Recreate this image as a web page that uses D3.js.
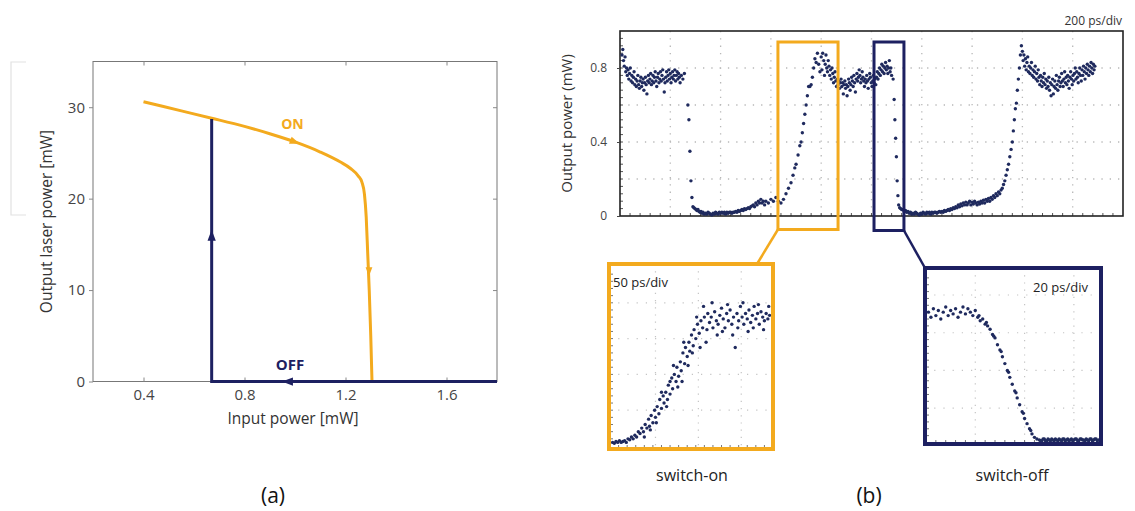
<!DOCTYPE html>
<html><head><meta charset="utf-8">
<script src="https://cdn.jsdelivr.net/npm/d3@7"></script>
<style>body{margin:0;background:#fff}svg{display:block}text{font-family:"Open Sans",sans-serif}</style>
</head><body>
<script>
// ---------- DATA ----------
// (a) hysteresis
const onBranchX = [0.40,0.55,0.67,0.80,0.90,1.00,1.10,1.18,1.22,1.25,1.265,1.275,1.282,1.288,1.294,1.300,1.305];
const onBranchY = [30.6,29.6,28.8,27.9,27.1,26.2,25.1,24.0,23.3,22.5,21.8,20.5,18.0,14.0,10.0,5.0,0];
const offBranchX = [1.80,0.67,0.67];
const offBranchY = [0,0,28.7];
const aXTicks = [0.4,0.8,1.2,1.6];
const aYTicks = [0,10,20,30];

// (b) main trace: [time ps, output mW]
const traceMain = [
[8,0.87],[11,0.90],[14,0.84],[17,0.81],[20,0.86],[23,0.78],[26,0.80],[29,0.76],[32,0.79],[35,0.74],[38,0.77],[41,0.80],[44,0.73],[47,0.76],[50,0.72],[53,0.75],[56,0.78],[59,0.71],[62,0.74],[65,0.70],[68,0.73],[71,0.76],[74,0.71],[77,0.69],[80,0.73],[83,0.75],[86,0.70],[89,0.72],[92,0.74],[95,0.68],[98,0.72],[101,0.75],[104,0.71],[107,0.66],[110,0.73],[113,0.76],[116,0.72],[119,0.74],[122,0.77],[125,0.71],[128,0.73],[131,0.76],[134,0.72],[137,0.75],[140,0.78],[143,0.73],[146,0.70],[149,0.75],[152,0.77],[155,0.72],[158,0.74],[161,0.78],[164,0.73],[167,0.76],[170,0.79],[173,0.74],[176,0.67],[179,0.72],[182,0.75],[185,0.78],[188,0.73],[191,0.76],[194,0.79],[197,0.74],[200,0.77],[203,0.72],[206,0.75],[209,0.78],[212,0.74],[215,0.76],[218,0.79],[221,0.73],[224,0.76],[227,0.78],[230,0.74],[233,0.77],[236,0.75],[239,0.72],[244,0.76],[250,0.74],[256,0.77],
[270,0.60],[274,0.52],[278,0.35],[282,0.19],[286,0.10],[290,0.05],
[294,0.045],[298,0.04],[302,0.035],[306,0.03],[310,0.035],[314,0.025],[318,0.02],[322,0.025],[326,0.015],[330,0.02],[335,0.01],[340,0.015],[345,0.01],[350,0.02],[355,0.015],[360,0.01],[365,0.005],[370,0.015],[375,0.01],[380,0.02],[385,0.015],[390,0.01],[395,0.02],[400,0.015],[405,0.02],[410,0.015],[415,0.02],[420,0.01],[425,0.02],[430,0.015],[435,0.02],[440,0.02],[445,0.015],[450,0.02],[455,0.02],[460,0.025],[465,0.02],[470,0.03],[475,0.025],[480,0.03],[485,0.035],[490,0.03],[495,0.04],[500,0.035],[505,0.04],[510,0.045],[515,0.04],[520,0.05],[525,0.055],[530,0.06],[535,0.05],[540,0.07],[545,0.06],[550,0.08],[555,0.07],[560,0.09],[565,0.07],[570,0.08],[575,0.06],[580,0.08],[590,0.07],[600,0.09],[610,0.08],[620,0.10],[630,0.08],[640,0.07],[650,0.09],
[660,0.12],[670,0.15],[680,0.18],[688,0.22],[695,0.26],[700,0.28],[708,0.33],[715,0.38],[720,0.40],[725,0.45],[730,0.50],[735,0.55],[740,0.60],[745,0.65],[750,0.70],[755,0.70],[760,0.71],[765,0.75],[770,0.80],[775,0.85],[780,0.83],[785,0.88],[790,0.82],[795,0.78],
[800,0.86],[803,0.79],[806,0.88],[810,0.84],[813,0.76],[816,0.82],[819,0.87],[822,0.80],[825,0.78],[828,0.84],[831,0.81],[834,0.76],[837,0.79],[840,0.74],[843,0.80],[846,0.77],[849,0.72],[852,0.75],[855,0.78],[858,0.73],[861,0.70],[864,0.74],[867,0.71],[870,0.73],[873,0.69],[876,0.72],[879,0.74],[882,0.70],[885,0.72],[888,0.66],[891,0.71],[894,0.73],[897,0.69],[900,0.71],[903,0.65],[906,0.70],[909,0.74],[912,0.72],[915,0.68],[918,0.71],[921,0.75],[924,0.73],[927,0.70],[930,0.76],[933,0.72],[936,0.67],[939,0.74],[942,0.77],[945,0.73],[948,0.75],[951,0.79],[954,0.76],[957,0.72],[960,0.74],[963,0.78],[966,0.75],[969,0.73],[972,0.70],[975,0.74],[978,0.72],[981,0.76],[984,0.73],[987,0.69],[990,0.74],[993,0.77],[996,0.75],[999,0.72],[1002,0.70],[1005,0.73],[1008,0.76],[1011,0.72],[1014,0.74],[1017,0.71],[1020,0.75],[1023,0.78],[1026,0.74],[1029,0.77],[1032,0.80],[1035,0.76],[1038,0.79],[1041,0.82],[1044,0.78],[1047,0.81],[1050,0.77],[1053,0.80],[1056,0.83],[1059,0.79],[1062,0.81],[1065,0.77],[1068,0.80],[1071,0.84],[1074,0.78],[1077,0.80],[1080,0.76],
[1086,0.74],[1090,0.63],[1093,0.52],[1096,0.42],[1099,0.32],[1102,0.19],[1105,0.11],[1108,0.06],
[1112,0.045],[1116,0.04],[1120,0.035],[1125,0.035],[1130,0.025],[1135,0.03],[1140,0.02],[1145,0.025],[1150,0.015],[1155,0.02],[1160,0.01],[1165,0.015],[1170,0.01],[1175,0.02],[1180,0.015],[1185,0.01],[1190,0.005],[1195,0.015],[1200,0.01],[1205,0.02],[1210,0.015],[1215,0.01],[1220,0.02],[1225,0.015],[1230,0.02],[1235,0.01],[1240,0.02],[1245,0.015],[1250,0.02],[1255,0.02],[1260,0.015],[1265,0.02],[1270,0.025],[1275,0.02],[1280,0.025],[1285,0.02],[1290,0.03],[1295,0.025],[1300,0.03],[1305,0.035],[1310,0.03],[1315,0.04],[1320,0.035],[1325,0.045],[1330,0.04],[1335,0.05],[1340,0.045],[1345,0.06],[1350,0.05],[1355,0.065],[1360,0.055],[1365,0.07],[1370,0.06],[1375,0.075],[1380,0.06],[1385,0.07],[1390,0.08],[1395,0.06],[1400,0.075],[1405,0.065],[1410,0.08],[1415,0.07],[1420,0.06],[1425,0.075],[1430,0.065],[1435,0.08],[1440,0.07],[1445,0.085],[1450,0.07],[1455,0.09],[1460,0.08],[1465,0.095],[1470,0.08],[1475,0.10],[1480,0.09],[1485,0.11],[1490,0.10],[1495,0.12],[1500,0.11],[1505,0.13],[1510,0.12],[1515,0.14],[1520,0.15],
[1525,0.17],[1530,0.19],[1535,0.22],[1540,0.25],[1545,0.28],[1550,0.32],[1555,0.36],[1560,0.40],[1564,0.46],[1568,0.52],[1572,0.58],[1576,0.61],[1580,0.68],[1584,0.74],[1588,0.80],[1592,0.87],[1596,0.92],
[1600,0.89],[1603,0.84],[1606,0.87],[1609,0.81],[1612,0.85],[1615,0.79],[1618,0.83],[1621,0.86],[1624,0.78],[1627,0.81],[1630,0.77],[1633,0.80],[1636,0.83],[1639,0.76],[1642,0.79],[1645,0.75],[1648,0.78],[1651,0.81],[1654,0.74],[1657,0.77],[1660,0.73],[1663,0.79],[1666,0.75],[1669,0.71],[1672,0.76],[1675,0.73],[1678,0.70],[1681,0.75],[1684,0.72],[1687,0.77],[1690,0.71],[1693,0.74],[1696,0.69],[1699,0.73],[1702,0.70],[1705,0.75],[1708,0.68],[1711,0.72],[1714,0.65],[1717,0.71],[1720,0.74],[1723,0.66],[1726,0.70],[1729,0.73],[1732,0.69],[1735,0.76],[1738,0.71],[1741,0.68],[1744,0.73],[1747,0.75],[1750,0.70],[1753,0.72],[1756,0.77],[1759,0.73],[1762,0.70],[1765,0.74],[1768,0.78],[1771,0.72],[1774,0.75],[1777,0.71],[1780,0.76],[1783,0.73],[1786,0.69],[1789,0.75],[1792,0.78],[1795,0.74],[1798,0.71],[1801,0.76],[1804,0.73],[1807,0.77],[1810,0.80],[1813,0.74],[1816,0.78],[1819,0.75],[1822,0.72],[1825,0.77],[1828,0.80],[1831,0.76],[1834,0.73],[1837,0.79],[1840,0.76],[1843,0.81],[1846,0.78],[1849,0.74],[1852,0.80],[1855,0.77],[1858,0.82],[1861,0.79],[1864,0.76],[1867,0.81],[1870,0.78],[1873,0.83],[1876,0.80],[1879,0.77],[1882,0.82],[1885,0.79],[1888,0.81]
];
const bYTicks = [0,0.4,0.8];
const zoomOnWindow = [628, 867];   // ps
const zoomOffWindow = [1010, 1129]; // ps

// switch-on inset (50 ps/div)
const traceSwitchOn = [
[3,0.02],[5,0.015],[7,0.025],[9,0.02],[11,0.03],[13,0.02],[15,0.025],[17,0.03],[19,0.02],[21,0.04],[23,0.035],[25,0.05],[27,0.04],[29,0.06],
[31,0.05],[33,0.08],[35,0.07],[37,0.10],[39,0.08],[40,0.05],[41,0.12],[43,0.10],[45,0.15],[46,0.11],[47,0.09],[48,0.17],[50,0.13],[52,0.20],[53,0.16],[54,0.13],[55,0.22],[57,0.18],[58,0.26],[60,0.21],[60,0.30],[62,0.28],[63,0.24],[65,0.30],[66,0.22],[67,0.26],[68,0.34],[70,0.29],[70,0.36],[72,0.38],[73,0.32],[74,0.45],[75,0.40],[77,0.36],[78,0.44],[79,0.33],[80,0.39],[82,0.47],[83,0.42],[84,0.36],[85,0.52],[86,0.58],[87,0.46],[88,0.55],[90,0.50],[91,0.45],[92,0.58],[93,0.53],[95,0.62],[96,0.52],[97,0.56],[98,0.65],[100,0.60],[101,0.72],[102,0.68],[104,0.63],[105,0.55],[106,0.70],[108,0.66],[109,0.78],[110,0.72],[112,0.58],[113,0.65],[114,0.74],[116,0.69],
[118,0.72],[119,0.80],[120,0.66],[122,0.75],[124,0.70],[125,0.62],[126,0.68],[128,0.73],[130,0.77],[131,0.64],[132,0.71],[134,0.66],[136,0.74],[137,0.79],[138,0.70],[140,0.76],[142,0.68],[143,0.62],[144,0.72],[146,0.55],[148,0.74],[149,0.66],[150,0.70],[152,0.78],[154,0.72],[155,0.80],[156,0.68],[158,0.74],[160,0.71],[161,0.64],[162,0.76],[164,0.69],[166,0.73],[167,0.66],[168,0.78],[170,0.71],[172,0.74],[173,0.79],[174,0.68],[176,0.75],[178,0.72],[179,0.65],[180,0.70],[182,0.74],[184,0.71],[185,0.78],[186,0.73]
];
// switch-off inset (20 ps/div)
const traceSwitchOff = [
[1,0.76],[2,0.73],[3,0.78],[4,0.74],[5,0.77],[6,0.72],[7,0.76],[8,0.79],[9,0.74],[10,0.77],[11,0.75],[12,0.78],[13,0.73],[14,0.76],[15,0.79],[16,0.75],[17,0.78],[18,0.76],[19,0.74],[20,0.77],[21,0.73],[21.5,0.74],[22,0.71],[23,0.72],[24,0.69],[24.5,0.70],[25,0.68],[26,0.66],[27,0.63],[27.5,0.62],[28,0.61],[29,0.57],[30,0.54],[30.5,0.53],[31,0.50],[32,0.46],[33,0.42],[33.5,0.41],[34,0.38],[35,0.34],[36,0.30],[36.5,0.29],[37,0.26],[38,0.22],[39,0.18],[39.5,0.17],[40,0.14],[41,0.11],[42,0.08],[42.5,0.07],[43,0.05],[44,0.03],[45,0.02],
[46,0.015],[46.5,0.01],[47,0.01],[47.5,0.02],[48,0.02],[48.5,0.01],[49,0.01],[49.5,0.02],[50,0.015],[50.5,0.01],[51,0.02],[51.5,0.015],[52,0.01],[52.5,0.02],[53,0.015],[53.5,0.01],[54,0.02],[54.5,0.015],[55,0.01],[55.5,0.02],[56,0.02],[56.5,0.01],[57,0.015],[57.5,0.02],[58,0.01],[58.5,0.015],[59,0.02],[59.5,0.01],[60,0.015],[60.5,0.02],[61,0.02],[61.5,0.01],[62,0.01],[62.5,0.02],[63,0.02],[63.5,0.015],[64,0.015],[64.5,0.01],[65,0.02],[65.5,0.015],[66,0.01],[66.5,0.02],[67,0.02],[67.5,0.01],[68,0.015],[68.5,0.02],[69,0.02],[69.5,0.01],[70,0.015]
];

// ---------- DRAW ----------
const W = 1135, H = 511;
const ORANGE = "#F3AA1E", NAVY = "#1D2061", DOT = "#1f2a5e";
const svg = d3.select("body").append("svg").attr("width", W).attr("height", H);
svg.append("rect").attr("width", W).attr("height", H).attr("fill", "#fff");

// ===== Panel (a) =====
const ax = d3.scaleLinear().domain([0.2, 1.8]).range([93, 497]);
const ay = d3.scaleLinear().domain([0, 35]).range([381.5, 61.5]);
const ga = svg.append("g");
ga.append("path").attr("d", "M26,62 H11 V215 H26").attr("fill", "none").attr("stroke", "#e2e2e2").attr("stroke-width", 1.2);

ga.append("rect").attr("x", ax(0.2)).attr("y", ay(35)).attr("width", ax(1.8) - ax(0.2)).attr("height", ay(0) - ay(35))
  .attr("fill", "none").attr("stroke", "#777").attr("stroke-width", 1);
const axB = ga.append("g").attr("transform", `translate(0,${ay(0)})`)
  .call(d3.axisBottom(ax).tickValues(aXTicks).tickSize(-4).tickPadding(8).tickFormat(d3.format(".1f")));
const axT = ga.append("g").attr("transform", `translate(0,${ay(35)})`)
  .call(d3.axisTop(ax).tickValues(aXTicks).tickSize(-4).tickFormat(""));
const axL = ga.append("g").attr("transform", `translate(${ax(0.2)},0)`)
  .call(d3.axisLeft(ay).tickValues(aYTicks).tickSize(4).tickPadding(4));
const axR = ga.append("g").attr("transform", `translate(${ax(1.8)},0)`)
  .call(d3.axisRight(ay).tickValues(aYTicks).tickSize(-4).tickFormat(""));
[axB, axT, axL, axR].forEach(g => {
  g.select(".domain").remove();
  g.selectAll("line").attr("stroke", "#888");
  g.selectAll("text").attr("fill", "#444").attr("font-size", 15);
});
ga.append("text").attr("x", (ax(0.2) + ax(1.8)) / 2 - 2).attr("y", 424).attr("text-anchor", "middle")
  .attr("font-size", 15.5).attr("fill", "#333").text("Input power [mW]");
ga.append("text").attr("transform", `translate(52,${(ay(0) + ay(35)) / 2}) rotate(-90)`).attr("text-anchor", "middle")
  .attr("font-size", 15.5).attr("fill", "#333").text("Output laser power [mW]");

const onPts = onBranchX.map((x, i) => [x, onBranchY[i]]);
const offPts = offBranchX.map((x, i) => [x, offBranchY[i]]);
ga.append("path").attr("d", d3.line().x(d => ax(d[0])).y(d => ay(d[1])).curve(d3.curveMonotoneX)(onPts)).attr("fill", "none")
  .attr("stroke", ORANGE).attr("stroke-width", 3);
ga.append("path").attr("d", d3.line().x(d => ax(d[0])).y(d => ay(d[1]))(offPts)).attr("fill", "none")
  .attr("stroke", NAVY).attr("stroke-width", 3).attr("stroke-linejoin", "miter");
function arrow(g, x, y, angle, color, s) {
  g.append("path").attr("d", `M${s},0 L${-s},${-s * 0.75} L${-s},${s * 0.75} Z`)
    .attr("transform", `translate(${x},${y}) rotate(${angle})`).attr("fill", color);
}
arrow(ga, ax(0.97), ay(0), 180, NAVY, 5.5);
arrow(ga, ax(0.67), ay(16), -90, NAVY, 5.5);
arrow(ga, ax(1.0), ay(26.2), 21, ORANGE, 5);
arrow(ga, ax(1.293), ay(12), 90, ORANGE, 4.5);
ga.append("text").attr("x", ax(0.99)).attr("y", ay(27.6)).attr("text-anchor", "middle").attr("font-size", 14)
  .attr("font-weight", "bold").attr("fill", ORANGE).text("ON");
ga.append("text").attr("x", ax(0.98)).attr("y", ay(1.3)).attr("text-anchor", "middle").attr("font-size", 15)
  .attr("font-weight", "bold").attr("fill", NAVY).text("OFF");

// ===== Panel (b) main =====
const bx = d3.scaleLinear().domain([0, 2000]).range([620, 1123]);
const by = d3.scaleLinear().domain([0, 1]).range([216, 31]);
const gb = svg.append("g");
gb.append("g").selectAll("line").data(d3.range(200, 2000, 200)).join("line")
  .attr("x1", d => bx(d)).attr("x2", d => bx(d)).attr("y1", by(1)).attr("y2", by(0))
  .attr("stroke", "#b8b8b8").attr("stroke-width", 1.3).attr("stroke-dasharray", "1.3,6");
gb.append("g").selectAll("line").data([0.2, 0.4, 0.6, 0.8]).join("line")
  .attr("x1", bx(0)).attr("x2", bx(2000)).attr("y1", d => by(d)).attr("y2", d => by(d))
  .attr("stroke", "#b8b8b8").attr("stroke-width", 1.3).attr("stroke-dasharray", "1.3,7");
gb.append("g").selectAll("line").data(d3.range(40, 2000, 40)).join("line")
  .attr("x1", d => bx(d)).attr("x2", d => bx(d)).attr("y1", by(0)).attr("y2", by(0) - 3)
  .attr("stroke", "#555").attr("stroke-width", 1);
gb.append("g").selectAll("line").data(d3.range(0.04, 1, 0.04)).join("line")
  .attr("x1", bx(0)).attr("x2", bx(0) + 3).attr("y1", d => by(d)).attr("y2", d => by(d))
  .attr("stroke", "#555").attr("stroke-width", 1);
gb.append("rect").attr("x", bx(0)).attr("y", by(1)).attr("width", bx(2000) - bx(0)).attr("height", by(0) - by(1))
  .attr("fill", "none").attr("stroke", "#222").attr("stroke-width", 1.6);
const bl = gb.append("g").attr("transform", `translate(${bx(0)},0)`)
  .call(d3.axisLeft(by).tickValues(bYTicks).tickSize(3).tickPadding(10).tickFormat(d => d === 0 ? "0" : d3.format(".1f")(d)));
bl.select(".domain").remove();
bl.selectAll("line").attr("stroke", "#444");
bl.selectAll("text").attr("fill", "#444").attr("font-size", 12);
gb.append("text").attr("transform", `translate(572,${(by(0) + by(1)) / 2}) rotate(-90)`).attr("text-anchor", "middle")
  .attr("font-size", 15).attr("fill", "#333").text("Output power (mW)");
gb.append("text").attr("x", bx(2000) - 1).attr("y", 25).attr("text-anchor", "end").attr("font-size", 12)
  .attr("fill", "#333").text("200 ps/div");
gb.append("g").selectAll("circle").data(traceMain).join("circle")
  .attr("cx", d => bx(d[0])).attr("cy", d => by(d[1])).attr("r", 1.7).attr("fill", DOT);

const wTop = by(1) + 11, wBotOn = by(0) + 13.5, wBotOff = by(0) + 14.5;
gb.append("rect").attr("x", bx(zoomOnWindow[0])).attr("y", wTop).attr("width", bx(zoomOnWindow[1]) - bx(zoomOnWindow[0]))
  .attr("height", wBotOn - wTop).attr("fill", "none").attr("stroke", ORANGE).attr("stroke-width", 3);
gb.append("rect").attr("x", bx(zoomOffWindow[0])).attr("y", wTop).attr("width", bx(zoomOffWindow[1]) - bx(zoomOffWindow[0]))
  .attr("height", wBotOff - wTop).attr("fill", "none").attr("stroke", NAVY).attr("stroke-width", 3);

// ===== insets =====
function inset(cfg) {
  const g = svg.append("g");
  const x = d3.scaleLinear().domain(cfg.xd).range([cfg.x0 + 1, cfg.x1]);
  const y = d3.scaleLinear().domain([0, 1]).range([cfg.y1 - cfg.pb, cfg.y0 + 3]);
  g.append("g").selectAll("line").data(cfg.vgrid).join("line")
    .attr("x1", d => x(d)).attr("x2", d => x(d)).attr("y1", cfg.y0).attr("y2", cfg.y1)
    .attr("stroke", "#c4c4c4").attr("stroke-width", 1.2).attr("stroke-dasharray", "1.2,6");
  g.append("g").selectAll("line").data(cfg.hgrid).join("line")
    .attr("x1", cfg.x0).attr("x2", cfg.x1).attr("y1", d => y(d)).attr("y2", d => y(d))
    .attr("stroke", "#c4c4c4").attr("stroke-width", 1.2).attr("stroke-dasharray", "1.2,8");
  g.append("g").selectAll("line").data(d3.range(0.04, 1, 0.04)).join("line")
    .attr("x1", cfg.x0 + 1).attr("x2", cfg.x0 + 4).attr("y1", d => y(d)).attr("y2", d => y(d))
    .attr("stroke", "#777").attr("stroke-width", 1);
  g.append("g").selectAll("line").data(cfg.bticks).join("line")
    .attr("x1", d => x(d)).attr("x2", d => x(d)).attr("y1", cfg.y1 - 1).attr("y2", cfg.y1 - 4)
    .attr("stroke", "#777").attr("stroke-width", 1);
  g.append("g").selectAll("circle").data(cfg.data).join("circle")
    .attr("cx", d => x(d[0])).attr("cy", d => y(d[1])).attr("r", 1.7).attr("fill", DOT);
  g.append("rect").attr("x", cfg.x0).attr("y", cfg.y0).attr("width", cfg.x1 - cfg.x0).attr("height", cfg.y1 - cfg.y0)
    .attr("fill", "none").attr("stroke", cfg.color).attr("stroke-width", 4);
  g.append("text").attr("x", cfg.lx).attr("y", cfg.ly).attr("text-anchor", cfg.la).attr("font-size", 13)
    .attr("fill", "#222").text(cfg.label);
  g.append("text").attr("x", cfg.cx).attr("y", 481).attr("text-anchor", "middle").attr("font-size", 16)
    .attr("fill", "#222").text(cfg.caption);
}
inset({x0: 609, x1: 773, y0: 264, y1: 449, pb: 3, xd: [0, 190], color: ORANGE, data: traceSwitchOn,
  vgrid: [53, 103, 153], hgrid: [0.2, 0.4, 0.6, 0.8], bticks: d3.range(10, 190, 10),
  label: "50 ps/div", lx: 613, ly: 287, la: "start", caption: "switch-on", cx: 692});
inset({x0: 925, x1: 1101, y0: 268, y1: 444, pb: 1.5, xd: [0, 71], color: NAVY, data: traceSwitchOff,
  vgrid: [20, 40, 60], hgrid: [0.2, 0.42, 0.64, 0.86], bticks: d3.range(4, 71, 4),
  label: "20 ps/div", lx: 1088, ly: 292, la: "end", caption: "switch-off", cx: 1012});

// connector lines
svg.append("line").attr("x1", bx(zoomOnWindow[0])).attr("y1", wBotOn).attr("x2", 757).attr("y2", 264)
  .attr("stroke", ORANGE).attr("stroke-width", 2.5);
svg.append("line").attr("x1", bx(zoomOffWindow[1])).attr("y1", wBotOff).attr("x2", 925).attr("y2", 268)
  .attr("stroke", NAVY).attr("stroke-width", 2.5);

// panel letters
svg.append("text").attr("x", 273).attr("y", 503).attr("text-anchor", "middle").attr("font-size", 21)
  .attr("font-family", "Liberation Serif, serif").attr("fill", "#111").text("(a)");
svg.append("text").attr("x", 869).attr("y", 503).attr("text-anchor", "middle").attr("font-size", 21)
  .attr("font-family", "Liberation Serif, serif").attr("fill", "#111").text("(b)");
</script>
</body></html>
